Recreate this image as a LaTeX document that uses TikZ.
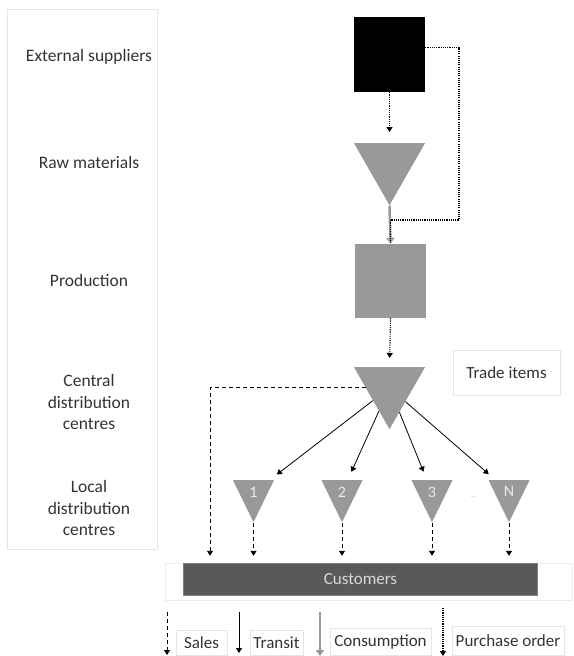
\documentclass[tikz,border=0pt]{standalone}
\usepackage{fontspec}
\setmainfont{Carlito}
\usetikzlibrary{shapes.geometric,arrows.meta}

\tikzset{
  level/.style={align=center, text=black!80, font=\fontsize{17.5}{21.5}\selectfont},
  panel/.style={draw=black!10, line width=0.8pt},
  bigtri/.style={isosceles triangle, shape border rotate=-90, isosceles triangle stretches,
    minimum width=71pt, minimum height=62pt, inner sep=0pt, fill=black!40},
  smalltri/.style={isosceles triangle, shape border rotate=-90, isosceles triangle stretches,
    minimum width=41pt, minimum height=42pt, inner sep=0pt, fill=black!40,
    text=black!8, font=\fontsize{16}{18}\selectfont},
  keybox/.style={draw=black!10, inner sep=0pt, text=black!80, font=\fontsize{17}{20}\selectfont},
  tip/.style={-{Triangle[length=5pt,width=6pt]}},
  sales/.style={tip, line width=0.9pt, dash pattern=on 4pt off 3pt},
  transit/.style={tip, line width=0.8pt},
  consumption/.style={-{Triangle[length=6pt,width=8pt]}, line width=2.5pt, draw=black!40},
  purchase/.style={tip, line width=1.1pt, dash pattern=on 1.1pt off 1.1pt},
}

\begin{document}
\begin{tikzpicture}[x=1pt,y=-1pt]
   \useasboundingbox (0,0) rectangle (573,656);

   % levels
   \draw [panel] (7,9) rectangle (157,549);
   \node (lExt) at (89,57) [level] {External suppliers};
   \node (lRaw) at (89,162) [level] {Raw materials};
   \node (lProd) at (89,280) [level] {Production};
   \node (lCentral) at (89,402) [level] {Central\\distribution\\centres};
   \node (lLocal) at (89,508) [level] {Local\\distribution\\centres};

   % chain
   \node (ext) at (389.5,54.5) [fill=black, minimum width=71pt, minimum height=75pt] {};
   \node (raw) at (389.5,143) [bigtri, anchor=north] {};
   \node (prod) at (390.5,281) [fill=black!40, minimum width=71pt, minimum height=74pt] {};
   \node (central) at (389.5,367) [bigtri, anchor=north] {};
   \node (trade) at (506.5,372.5) [keybox, minimum width=107pt, minimum height=45pt] {Trade items};

   \node (loc1) at (253.5,480) [smalltri, anchor=north] {1};
   \node (loc2) at (342,480) [smalltri, anchor=north] {2};
   \node (loc3) at (432,480) [smalltri, anchor=north] {3};
   \node (locDots) at (473,497) [text=black!30, font=\scriptsize] {...};
   \node (locN) at (509,480) [smalltri, anchor=north] {N};

   \node (custPanel) at (368.5,581.5) [draw=black!8, minimum width=407pt, minimum height=37pt] {};
   \node (cust) at (360.5,579) [fill=black!65, draw=black!50, minimum width=354pt, minimum height=32pt,
      text=black!15, font=\fontsize{17}{20}\selectfont] {Customers};

   \coordinate (po) at (459,220);
   \coordinate (salesX) at (210,0);

   \draw [purchase, shorten >=11pt] (ext.south) -- (raw.north);
   \draw [consumption] (raw.apex) -- (prod.north);
   \draw [line width=1.1pt, dash pattern=on 1.1pt off 1.1pt] ([yshift=7pt]ext.east) -| (po) -| (prod.north);
   \draw [purchase, shorten >=9pt] (prod.south) -- (central.north);

   \draw [sales, shorten >=7pt] (central.west) -| (salesX |- cust.north);
   \draw [transit, shorten >=9pt] (central) -- (loc1);
   \draw [transit, shorten >=9pt] (central) -- (loc2);
   \draw [transit, shorten >=9pt] (central) -- (loc3);
   \draw [transit, shorten >=9pt] (central) -- (locN);

   \draw [sales, shorten >=7pt] (loc1.apex) -- (loc1.apex |- cust.north);
   \draw [sales, shorten >=7pt] (loc2.apex) -- (loc2.apex |- cust.north);
   \draw [sales, shorten >=7pt] (loc3.apex) -- (loc3.apex |- cust.north);
   \draw [sales, shorten >=7pt] (locN.apex) -- (locN.apex |- cust.north);

   % key
   \coordinate (salesA) at (167,612);
   \coordinate (salesB) at (167,655);
   \coordinate (transitA) at (239,612);
   \coordinate (transitB) at (239,653);
   \coordinate (consA) at (320,612);
   \coordinate (consB) at (320,656);
   \coordinate (poA) at (443,608);
   \coordinate (poB) at (443,656);

   \draw [sales] (salesA) -- (salesB);
   \node (kSales) at (201.5,642.5) [keybox, minimum width=51pt, minimum height=25pt] {Sales};
   \draw [transit] (transitA) -- (transitB);
   \node (kTransit) at (276.5,642.5) [keybox, minimum width=53pt, minimum height=25pt] {Transit};
   \draw [consumption] (consA) -- (consB);
   \node (kCons) at (380.5,641.5) [keybox, minimum width=101pt, minimum height=27pt] {Consumption};
   \draw [purchase] (poA) -- (poB);
   \node (kPo) at (508,640.5) [keybox, minimum width=112pt, minimum height=29pt] {Purchase order};

\end{tikzpicture}
\end{document}
